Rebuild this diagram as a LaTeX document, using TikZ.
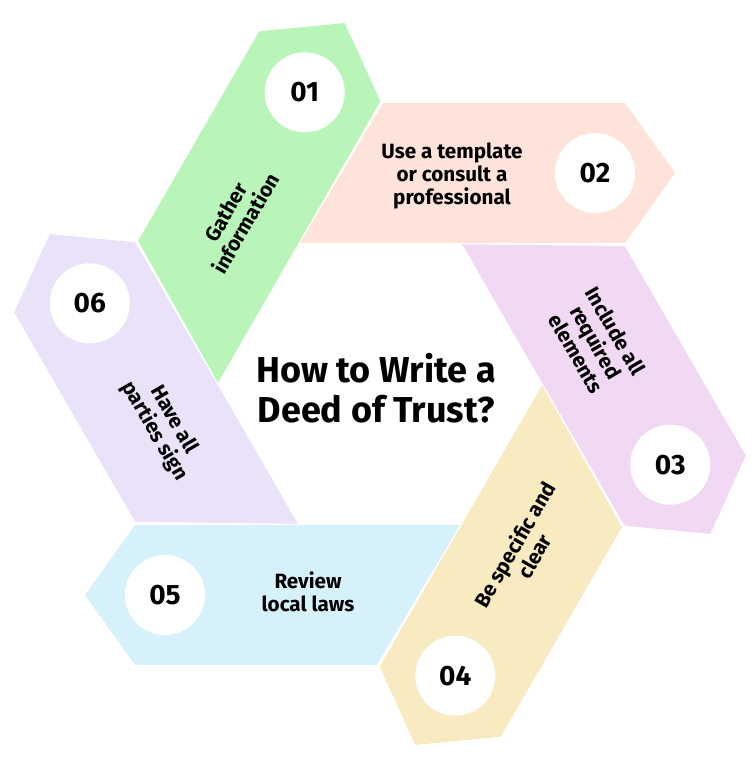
\documentclass[tikz,border=0pt]{standalone}
\usepackage{fontspec}
\setmainfont{Fira Sans}
\begin{document}
\begin{tikzpicture}[x=0.75pt,y=0.75pt,
  band/.style={draw=none},
  numcirc/.style={circle,fill=white,minimum size=60pt,inner sep=0pt,font=\fontsize{21}{23}\selectfont\bfseries},
  lbl/.style={align=center,font=\fontsize{15.5}{17}\selectfont\bfseries},
  title/.style={align=center,font=\fontsize{27}{30}\selectfont\bfseries}]
\useasboundingbox (0,0) rectangle (753,768);
\definecolor{c1}{HTML}{B9F5B9}
\definecolor{c2}{HTML}{FDE3DA}
\definecolor{c3}{HTML}{F2D9F3}
\definecolor{c4}{HTML}{F8EBC1}
\definecolor{c5}{HTML}{D7F1FA}
\definecolor{c6}{HTML}{E9E2F9}
\coordinate (ctr) at (380,384);
\foreach \r/\c/\n/\t/\tr in {
  0/c2/02/{Use a template\\or consult a\\professional}/0,
  60/c1/01/{Gather\\information}/60,
  120/c6/06/{Have all\\parties sign}/-60,
  180/c5/05/{Review\\local laws}/0,
  240/c4/04/{Be specific and\\clear}/60,
  300/c3/03/{Include all\\required\\elements}/-60}{
  \begin{scope}[shift={(ctr)},rotate=\r]
    \fill[\c] (3,281) -- (245,281) -- (295,211) -- (245,141) -- (-80,141) -- cycle;
    \node[numcirc] (n\n) at (215,211) {\n};
    \node[lbl,rotate=\tr] (t\n) at (72,208) {\t};
  \end{scope}
}
\node[title] (title) at (376,380) {How to Write a\\Deed of Trust?};
\end{tikzpicture}
\end{document}
